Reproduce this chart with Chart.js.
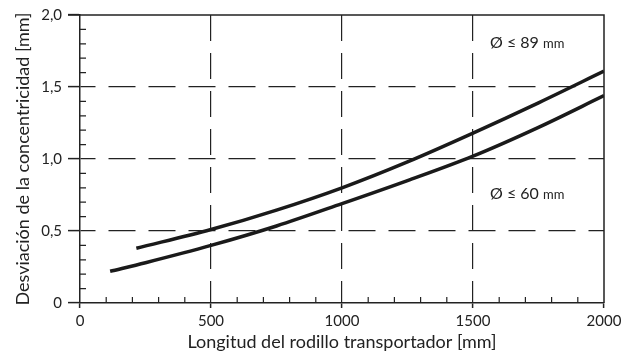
<!DOCTYPE html>
<html>
<head>
<meta charset="utf-8">
<script src="https://cdn.jsdelivr.net/npm/chart.js@4/dist/chart.umd.min.js"></script>
<style>
  html, body { margin: 0; padding: 0; background: #fff; }
  #wrap { width: 638px; height: 358px; }
</style>
</head>
<body>
<div id="wrap"><canvas id="devChart" width="638" height="358"></canvas></div>
<script>
// rollers up to 60 mm diameter
const lengths60 = [115, 250, 500, 750, 1000, 1250, 1500, 1750, 2000];
const dev60 = [0.22, 0.28, 0.40, 0.535, 0.69, 0.85, 1.02, 1.22, 1.44];
// rollers up to 89 mm diameter
const lengths89 = [215, 500, 750, 1000, 1250, 1500, 1750, 2000];
const dev89 = [0.38, 0.51, 0.645, 0.80, 0.98, 1.18, 1.39, 1.61];

const curveLabels = ["Ø ≤ 60", "Ø ≤ 89"];
const labelPos = [[1565, 0.76], [1565, 1.81]];

const xTitle = "Longitud del rodillo transportador [mm]";
const yTitle = "Desviación de la concentricidad [mm]";

const FONT = "Lato";
const INK = "#222";

// minor ticks, top/right frame and the diameter notes
const extras = {
    id: "extras",
    afterDraw(chart) {
        const { ctx, chartArea: a, scales: { x, y } } = chart;
        ctx.save();
        ctx.strokeStyle = INK;
        ctx.lineWidth = 1.5;
        ctx.beginPath();
        ctx.moveTo(a.left - 12, a.top);
        ctx.lineTo(a.right, a.top);
        ctx.lineTo(a.right, a.bottom);
        ctx.stroke();

        ctx.lineWidth = 1.2;
        ctx.beginPath();
        for (let v = 100; v < 2000; v += 100) {
            if (v % 500 === 0) continue;
            const px = x.getPixelForValue(v);
            ctx.moveTo(px, a.bottom);
            ctx.lineTo(px, a.bottom - 6);
        }
        for (let i = 1; i < 20; i++) {
            if (i % 5 === 0) continue;
            const py = y.getPixelForValue(i / 10);
            ctx.moveTo(a.left, py);
            ctx.lineTo(a.left + 6, py);
        }
        ctx.stroke();

        ctx.fillStyle = INK;
        ctx.textBaseline = "middle";
        ctx.textAlign = "left";
        curveLabels.forEach((txt, i) => {
            const px = x.getPixelForValue(labelPos[i][0]);
            const py = y.getPixelForValue(labelPos[i][1]);
            ctx.font = "16px " + FONT;
            ctx.fillText(txt + " ", px, py);
            const w = ctx.measureText(txt + " ").width;
            ctx.font = "13px " + FONT;
            ctx.fillText("mm", px + w, py + 1);
        });
        ctx.restore();
    }
};

const edge = v => v === 0 || v === 2000;

new Chart(document.getElementById("devChart"), {
    type: "line",
    data: {
        datasets: [
            {
                label: curveLabels[0],
                data: lengths60.map((l, i) => ({ x: l, y: dev60[i] })),
                borderColor: "#1a1a1a",
                borderWidth: 3.5,
                pointRadius: 0,
                cubicInterpolationMode: "monotone",
                borderCapStyle: "butt"
            },
            {
                label: curveLabels[1],
                data: lengths89.map((l, i) => ({ x: l, y: dev89[i] })),
                borderColor: "#1a1a1a",
                borderWidth: 3.5,
                pointRadius: 0,
                cubicInterpolationMode: "monotone",
                borderCapStyle: "butt"
            }
        ]
    },
    options: {
        responsive: false,
        animation: false,
        layout: { padding: { top: 14, right: 34, left: 0, bottom: 0 } },
        plugins: { legend: { display: false }, tooltip: { enabled: false } },
        scales: {
            x: {
                type: "linear",
                min: 0,
                max: 2000,
                afterFit: s => { s.height = 55; },
                ticks: {
                    stepSize: 500,
                    color: INK,
                    font: { family: FONT, size: 15 },
                    padding: 4,
                    maxRotation: 0,
                    callback: v => String(v)
                },
                grid: {
                    color: c => edge(c.tick.value) ? "rgba(0,0,0,0)" : INK,
                    lineWidth: 1.2,
                    tickColor: INK,
                    tickLength: 5,
                    tickWidth: 1.5
                },
                border: { color: INK, width: 1.5, dash: [26, 12], dashOffset: 0 },
                title: {
                    display: true,
                    text: xTitle,
                    color: INK,
                    font: { family: FONT, size: 18 },
                    padding: { bottom: 5 }
                }
            },
            y: {
                min: 0,
                max: 2,
                afterFit: s => { s.width = 80; },
                ticks: {
                    stepSize: 0.5,
                    color: INK,
                    font: { family: FONT, size: 15 },
                    padding: 6,
                    callback: v => v === 0 ? "0" : v.toFixed(1).replace(".", ",")
                },
                grid: {
                    color: c => (c.tick.value === 0 || c.tick.value === 2) ? "rgba(0,0,0,0)" : INK,
                    lineWidth: 1.2,
                    tickColor: INK,
                    tickLength: 12,
                    tickWidth: 1.5
                },
                border: { color: INK, width: 1.5, dash: [27, 13], dashOffset: 12 },
                title: {
                    display: true,
                    text: yTitle,
                    color: INK,
                    font: { family: FONT, size: 18 },
                    padding: { top: 12 }
                }
            }
        }
    },
    plugins: [extras]
});
</script>
</body>
</html>
